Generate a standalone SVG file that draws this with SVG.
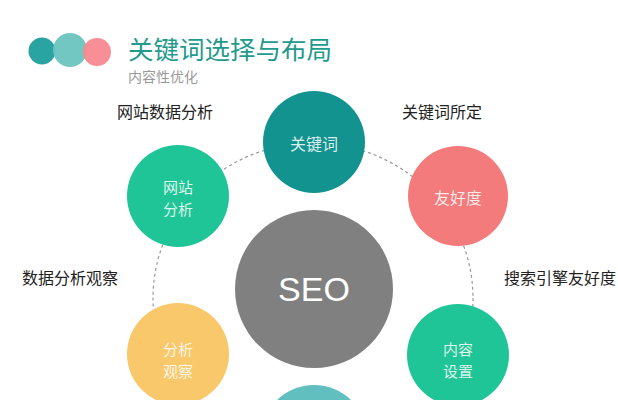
<svg xmlns="http://www.w3.org/2000/svg" width="618" height="400" viewBox="0 0 618 400">
<style>
text{font-family:"Noto Sans CJK SC","Noto Sans",sans-serif}
.lab{font-size:16px;fill:#222}
.in{font-size:15px;fill:#fff;fill-opacity:0.85;text-anchor:middle}
.ring{fill:none;stroke:#999;stroke-width:1.2;stroke-dasharray:3 3}
</style>
<rect width="618" height="400" fill="#fff"/>
<g id="header">
<circle cx="42" cy="51" r="13.5" fill="#2aa3a3"/>
<circle cx="70" cy="50" r="17" fill="#6cc4c0" fill-opacity="0.95"/>
<circle cx="97" cy="52" r="14" fill="#f88890" fill-opacity="0.95"/>
<text x="128" y="59" font-size="25.5" fill="#1f9a8d">关键词选择与布局</text>
<text x="128" y="82" font-size="14" fill="#999">内容性优化</text>
</g>
<g id="connectors">
<ellipse class="ring" cx="313" cy="298" rx="160" ry="155"/>
</g>
<g id="seo"><circle cx="314" cy="289" r="79" fill="#808080"/><text x="314" y="301" font-size="34" fill="#fff" text-anchor="middle" style="font-family:'Liberation Sans',Arial,sans-serif">SEO</text></g>
<g id="keyword"><circle cx="314" cy="142" r="51" fill="#13938f"/><text class="in" x="314" y="150" style="font-size:16px">关键词</text></g>
<g id="friendly"><circle cx="458" cy="196" r="50" fill="#f47b7b"/><text class="in" x="458" y="204" style="font-size:16px">友好度</text></g>
<g id="site"><circle cx="178" cy="196" r="51" fill="#1fc596"/><text class="in" x="178" y="193">网站</text><text class="in" x="178" y="215">分析</text></g>
<g id="observe"><circle cx="178" cy="354" r="51" fill="#f8c86b"/><text class="in" x="178" y="355">分析</text><text class="in" x="178" y="377">观察</text></g>
<g id="content"><circle cx="458" cy="355" r="51" fill="#1fc596"/><text class="in" x="458" y="355">内容</text><text class="in" x="458" y="377">设置</text></g>
<g id="bottom"><circle cx="314" cy="438" r="53" fill="#62bfbf"/></g>
<g id="labels">
<text class="lab" x="117" y="118">网站数据分析</text>
<text class="lab" x="402" y="118">关键词所定</text>
<text class="lab" x="22" y="284">数据分析观察</text>
<text class="lab" x="504" y="284">搜索引擎友好度</text>
</g>
</svg>
